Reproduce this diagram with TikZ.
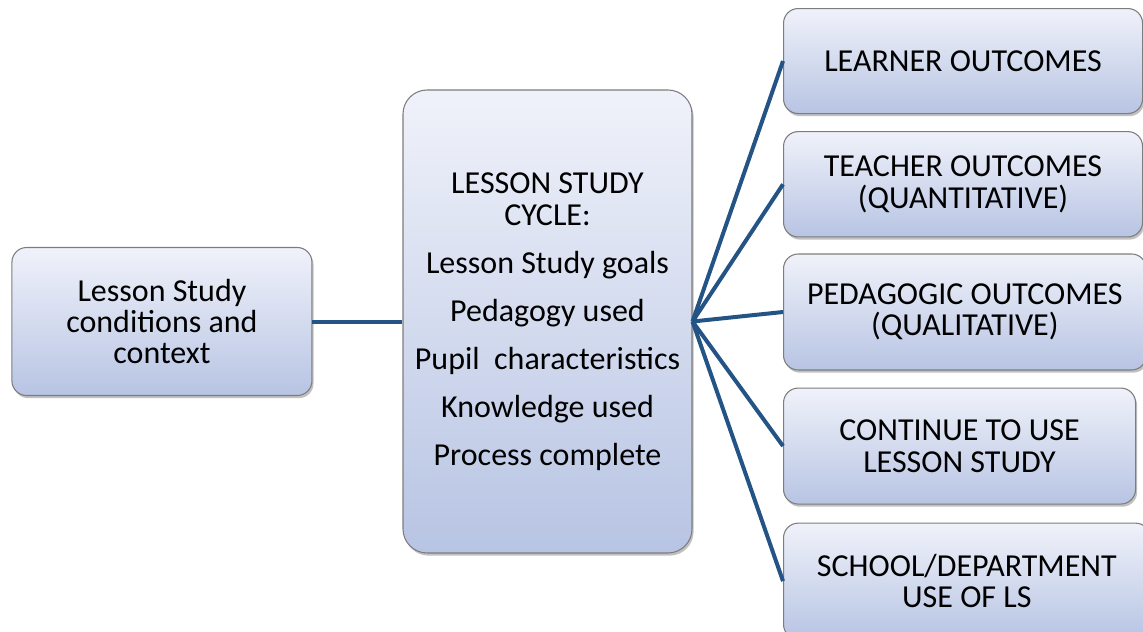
\documentclass[tikz,border=0pt]{standalone}
\usepackage{fontspec}
\setmainfont{Carlito}
\usepackage{tikz}
\usetikzlibrary{positioning, shadows}

\definecolor{boxtop}{RGB}{240,242,250}
\definecolor{boxbottom}{RGB}{183,196,227}
\definecolor{boxline}{RGB}{125,125,125}
\definecolor{linkblue}{RGB}{36,83,134}

\begin{document}
\begin{tikzpicture}[
    x=0.75pt, y=-0.75pt,
    box/.style={rectangle, draw=boxline, line width=0.8pt, rounded corners=11pt,
        top color=boxtop, bottom color=boxbottom, align=center,
        drop shadow={shadow xshift=1.2pt, shadow yshift=-2pt, opacity=0.35, fill=black!70}},
    outcome/.style={box, font=\fontsize{24}{23.5}\selectfont, minimum height=79pt, inner sep=0pt},
    link/.style={draw=linkblue, line width=3pt},
    node distance=12.75pt
    ]

    % Fix the page to the reference frame
    \useasboundingbox (0,0) rectangle (1143,632);
    \clip (0,0) rectangle (1143,632);

    % Centre box and conditions box
    \node[box, minimum width=216.75pt, minimum height=347.25pt, rounded corners=18pt,
        font=\fontsize{24}{24}\selectfont] (cycle) at (547.5,321.5)
        {LESSON STUDY\\CYCLE:\\[12pt]
         Lesson Study goals\\[12pt]
         Pedagogy used\\[12pt]
         Pupil\ \ characteristics\\[12pt]
         Knowledge used\\[12pt]
         Process complete};
    \node[box, minimum width=225pt, minimum height=111pt, font=\fontsize{24}{23.5}\selectfont,
        left=67.5pt of cycle] (context) {Lesson Study\\conditions and\\context};

    % Outcome boxes (right column)
    \node[outcome, minimum width=269.25pt, minimum height=78.75pt, anchor=north west]
        (learner) at (783,8) {LEARNER OUTCOMES};
    \node[outcome, minimum width=269.25pt, below=12.75pt of learner.south west, anchor=north west]
        (teacher) {TEACHER OUTCOMES\\(QUANTITATIVE)};
    \node[outcome, minimum width=272pt, minimum height=87pt, below=12pt of teacher.south west, anchor=north west]
        (pedagogic) {PEDAGOGIC OUTCOMES\\(QUALITATIVE)};
    \node[outcome, minimum width=264pt, minimum height=87pt, below=12.75pt of pedagogic.south west, anchor=north west]
        (continue) {CONTINUE TO USE\\LESSON STUDY};
    \node[outcome, minimum width=275pt, minimum height=87pt, below=13.5pt of continue.south west, anchor=north west]
        (school) {SCHOOL/DEPARTMENT\\USE OF LS};

    % Connect the boxes
    \draw[link] (context) -- (cycle);
    \draw[link] (cycle.east) -- (learner.west);
    \draw[link] (cycle.east) -- (teacher.west);
    \draw[link] (cycle.east) -- (pedagogic.west);
    \draw[link] (cycle.east) -- (continue.west);
    \draw[link] (cycle.east) -- (school.west);

\end{tikzpicture}
\end{document}
